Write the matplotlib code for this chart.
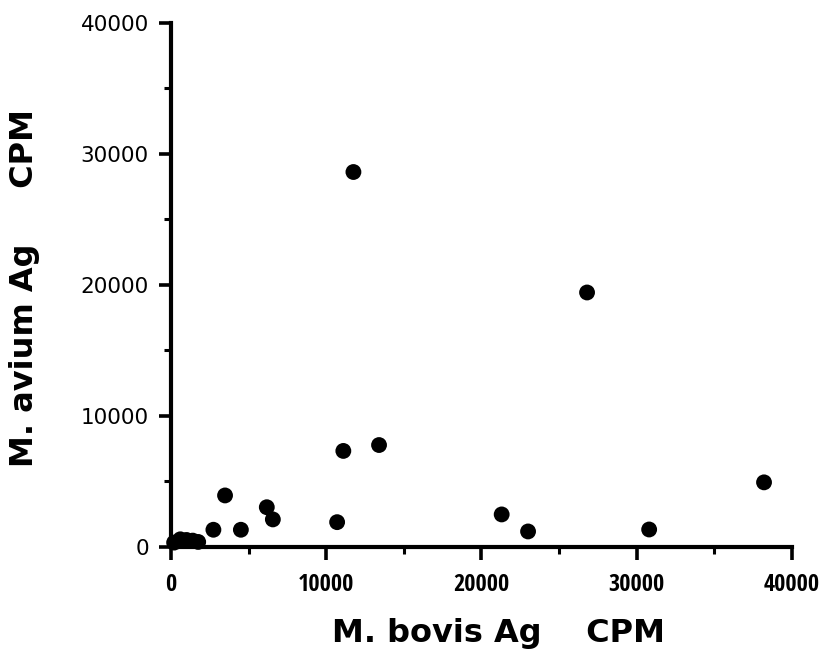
import matplotlib
matplotlib.use("Agg")
import matplotlib.pyplot as plt
from matplotlib import font_manager
from matplotlib.ticker import MultipleLocator

# Proliferation responses (counts per minute) to the two antigens
bovis_cpm = [200, 600, 1000, 1400, 1750, 2730, 3480, 4500, 6170, 6560,
             10700, 11100, 11750, 13400, 21300, 23000, 26800, 30800, 38200]
avium_cpm = [300, 550, 500, 450, 350, 1280, 3900, 1280, 3000, 2070,
             1860, 7300, 28600, 7750, 2450, 1150, 19400, 1300, 4900]

x_ticks = [0, 10000, 20000, 30000, 40000]
y_ticks = [0, 10000, 20000, 30000, 40000]

# Pick a narrow face for the x tick numbers when one is installed
installed = {f.name for f in font_manager.fontManager.ttflist}
narrow = None
for cand in ('Liberation Sans Narrow', 'DejaVu Sans Condensed',
             'Open Sans Condensed', 'Roboto Condensed', 'Arial Narrow'):
    if cand in installed:
        narrow = cand
        break
if narrow is not None:
    xtick_font = dict(family=[narrow, 'DejaVu Sans'], fontsize=17.5)
else:
    xtick_font = dict(family=['Liberation Sans', 'DejaVu Sans'], fontsize=15)

plt.rcParams['font.family'] = ['DejaVu Sans']

fig = plt.figure(figsize=(8.23, 6.61), dpi=100)
ax = fig.add_axes([0.2078, 0.1732, 0.7545, 0.7924])

ax.scatter(bovis_cpm, avium_cpm, s=130, color='black', edgecolors='none',
           zorder=3, clip_on=False)

ax.set_xlim(0, 40000)
ax.set_ylim(0, 40000)
ax.set_xticks(x_ticks)
ax.set_yticks(y_ticks)
ax.set_xticklabels([str(v) for v in x_ticks], **xtick_font)
ax.set_yticklabels([str(v) for v in y_ticks], family='DejaVu Sans', fontsize=15.5)
ax.xaxis.set_minor_locator(MultipleLocator(5000))
ax.yaxis.set_minor_locator(MultipleLocator(5000))

for side in ('top', 'right'):
    ax.spines[side].set_visible(False)
for side in ('left', 'bottom'):
    ax.spines[side].set_linewidth(3.0)
    ax.spines[side].set_capstyle('projecting')

ax.tick_params(which='major', direction='out', length=9, width=2.6, colors='black')
ax.tick_params(which='minor', direction='out', length=5, width=2.2, colors='black')
ax.tick_params(axis='x', which='major', pad=10)
ax.tick_params(axis='y', which='major', pad=7)

label_font = dict(family='DejaVu Sans', fontsize=23, fontweight='bold')
ax.text(0.527, -0.182, 'M. bovis Ag    CPM', transform=ax.transAxes,
        ha='center', va='baseline', **label_font)
ax.text(-0.222, 0.4945, 'M. avium Ag     CPM', transform=ax.transAxes,
        rotation=90, rotation_mode='anchor', ha='center', va='baseline',
        **label_font)

fig.savefig('out.png', dpi=100, facecolor='white')
